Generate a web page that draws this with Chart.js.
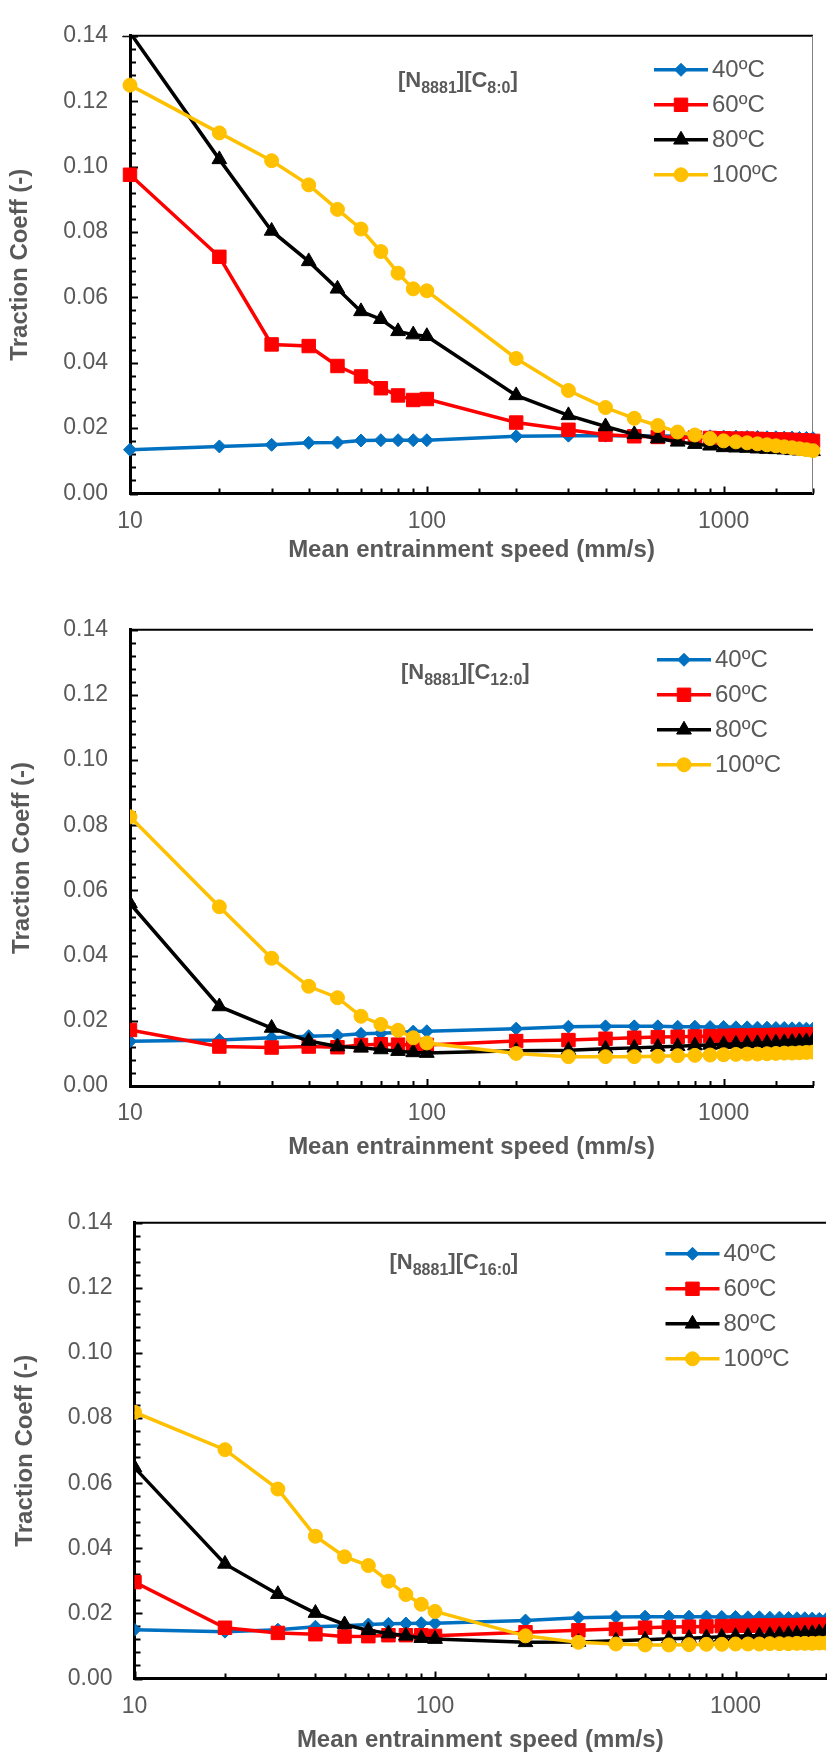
<!DOCTYPE html>
<html>
<head>
<meta charset="utf-8">
<title>Traction coefficient vs mean entrainment speed</title>
<script src="https://cdn.jsdelivr.net/npm/chart.js@4.4.1/dist/chart.umd.min.js"></script>
<style>
    html, body { margin: 0; padding: 0; background: #fff; }
    #page { position: relative; width: 827px; height: 1755px; overflow: hidden; }
    #page canvas { position: absolute; left: 0; }
</style>
</head>
<body>
<div id="page">
    <canvas id="chartC8" width="827" height="570" style="top:0"></canvas>
    <canvas id="chartC12" width="827" height="568" style="top:594px"></canvas>
    <canvas id="chartC16" width="840" height="568" style="top:1187px"></canvas>
</div>
<script>
// Mean entrainment speed (mm/s)
const speeds = [10, 20, 30, 40, 50, 60, 70, 80, 90, 100,
    200, 300, 400, 500, 600, 700, 800, 900, 1000,
    1100, 1200, 1300, 1400, 1500, 1600, 1700, 1800, 1900, 2000];

const seriesLabels = ['40ºC', '60ºC', '80ºC', '100ºC'];
const xTickLabels = [10, 100, 1000];
const yMin = 0;
const yMax = 0.14;
const yStep = 0.02;

// [N8881][C8:0]
const c8_40 = [0.0134, 0.0144, 0.0149, 0.0155, 0.0156, 0.0162, 0.0163, 0.0163, 0.0163, 0.0163,
    0.0175, 0.0177, 0.0177, 0.0177, 0.0176, 0.0176, 0.0175, 0.0175, 0.0174,
    0.0174, 0.0173, 0.0173, 0.0172, 0.0172, 0.0171, 0.0171, 0.0170, 0.0170, 0.0169];
const c8_60 = [0.0975, 0.0724, 0.0456, 0.0451, 0.0390, 0.0358, 0.0322, 0.0300, 0.0286, 0.0289,
    0.0217, 0.0195, 0.0180, 0.0175, 0.0173, 0.0172, 0.0171, 0.0170, 0.0169,
    0.0168, 0.0168, 0.0167, 0.0166, 0.0165, 0.0165, 0.0164, 0.0163, 0.0162, 0.0161];
const c8_80 = [0.1410, 0.1022, 0.0803, 0.0710, 0.0626, 0.0557, 0.0533, 0.0496, 0.0486, 0.0481,
    0.0300, 0.0239, 0.0205, 0.0181, 0.0168, 0.0158, 0.0151, 0.0146, 0.0141,
    0.0140, 0.0139, 0.0137, 0.0136, 0.0135, 0.0134, 0.0132, 0.0131, 0.0130, 0.0129];
const c8_100 = [0.1249, 0.1103, 0.1018, 0.0944, 0.0869, 0.0809, 0.0740, 0.0674, 0.0626, 0.0620,
    0.0413, 0.0315, 0.0263, 0.0230, 0.0208, 0.0188, 0.0179, 0.0168, 0.0161,
    0.0158, 0.0155, 0.0152, 0.0149, 0.0146, 0.0143, 0.0140, 0.0137, 0.0134, 0.0131];

// [N8881][C12:0]
const c12_40 = [0.0137, 0.0141, 0.0148, 0.0153, 0.0155, 0.0160, 0.0162, 0.0164, 0.0167, 0.0168,
    0.0176, 0.0182, 0.0183, 0.0183, 0.0183, 0.0182, 0.0182, 0.0181, 0.0181,
    0.0180, 0.0180, 0.0179, 0.0179, 0.0178, 0.0178, 0.0177, 0.0177, 0.0176, 0.0176];
const c12_60 = [0.0172, 0.0121, 0.0118, 0.0121, 0.0119, 0.0126, 0.0128, 0.0127, 0.0126, 0.0126,
    0.0138, 0.0141, 0.0145, 0.0148, 0.0150, 0.0151, 0.0152, 0.0153, 0.0154,
    0.0155, 0.0155, 0.0156, 0.0156, 0.0157, 0.0157, 0.0157, 0.0158, 0.0158, 0.0158];
const c12_80 = [0.0560, 0.0244, 0.0178, 0.0138, 0.0121, 0.0117, 0.0112, 0.0107, 0.0103, 0.0101,
    0.0108, 0.0110, 0.0114, 0.0117, 0.0120, 0.0122, 0.0124, 0.0126, 0.0128,
    0.0129, 0.0130, 0.0131, 0.0132, 0.0133, 0.0134, 0.0135, 0.0136, 0.0137, 0.0138];
const c12_100 = [0.0826, 0.0550, 0.0392, 0.0306, 0.0271, 0.0214, 0.0189, 0.0171, 0.0148, 0.0132,
    0.0100, 0.0090, 0.0090, 0.0090, 0.0091, 0.0093, 0.0094, 0.0095, 0.0096,
    0.0097, 0.0098, 0.0098, 0.0099, 0.0100, 0.0101, 0.0101, 0.0102, 0.0103, 0.0104];

// [N8881][C16:0]
const c16_40 = [0.0150, 0.0144, 0.0150, 0.0159, 0.0162, 0.0166, 0.0168, 0.0169, 0.0170, 0.0170,
    0.0178, 0.0187, 0.0189, 0.0190, 0.0190, 0.0190, 0.0190, 0.0189, 0.0189,
    0.0188, 0.0188, 0.0187, 0.0187, 0.0186, 0.0185, 0.0185, 0.0184, 0.0183, 0.0182];
const c16_60 = [0.0296, 0.0156, 0.0140, 0.0136, 0.0129, 0.0130, 0.0133, 0.0133, 0.0133, 0.0131,
    0.0142, 0.0148, 0.0152, 0.0156, 0.0158, 0.0159, 0.0160, 0.0161, 0.0162,
    0.0162, 0.0163, 0.0163, 0.0164, 0.0164, 0.0164, 0.0165, 0.0165, 0.0165, 0.0165];
const c16_80 = [0.0648, 0.0352, 0.0259, 0.0201, 0.0166, 0.0148, 0.0138, 0.0131, 0.0124, 0.0121,
    0.0111, 0.0112, 0.0116, 0.0119, 0.0122, 0.0124, 0.0126, 0.0128, 0.0130,
    0.0131, 0.0132, 0.0134, 0.0135, 0.0136, 0.0137, 0.0138, 0.0139, 0.0141, 0.0142];
const c16_100 = [0.0818, 0.0703, 0.0582, 0.0437, 0.0374, 0.0347, 0.0299, 0.0258, 0.0228, 0.0206,
    0.0131, 0.0111, 0.0106, 0.0103, 0.0103, 0.0104, 0.0105, 0.0105, 0.0106,
    0.0106, 0.0106, 0.0107, 0.0107, 0.0107, 0.0108, 0.0108, 0.0108, 0.0109, 0.0109];

const seriesColors = ['#0070C0', '#FF0000', '#000000', '#FFC000'];
const markerStyles = ['rectRot', 'rect', 'triangle', 'circle'];
const markerRadii = [6.5, 9.5, 8.5, 7];

const textGray = '#595959';
const fontFamily = "'Liberation Sans', Arial, sans-serif";
Chart.defaults.font.family = fontFamily;
Chart.defaults.color = textGray;

const panels = [
    {
        id: 'chartC8', series: [c8_40, c8_60, c8_80, c8_100], title: ['[N', '8881', '][C', '8:0', ']'],
        axisLeft: 130, xAxisHeight: 76.5, padRight: 0, xTitlePad: 5, yTitlePad: 6,
        legend: { x: 524, y: 34, dy: 35 }, note: { x: 268, y: 51 }, rightBorder: true,
        clip: { left: 12, top: 0, right: 12, bottom: 12 }
    },
    {
        id: 'chartC12', series: [c12_40, c12_60, c12_80, c12_100], title: ['[N', '8881', '][C', '12:0', ']'],
        axisLeft: 130, xAxisHeight: 76, padRight: 0, xTitlePad: 0, yTitlePad: 8,
        legend: { x: 527, y: 30, dy: 35 }, note: { x: 271, y: 49 }, rightBorder: false
    },
    {
        id: 'chartC16', series: [c16_40, c16_60, c16_80, c16_100], title: ['[N', '8881', '][C', '16:0', ']'],
        axisLeft: 134.5, xAxisHeight: 76.5, padRight: 5, xTitlePad: 0, yTitlePad: 11,
        legend: { x: 531, y: 31, dy: 35 }, note: { x: 255, y: 46 }, rightBorder: false
    }
];

// Frame, inside tick marks, in-plot legend and the sample label
const panelDecor = {
    id: 'panelDecor',
    beforeDatasetsDraw(chart, args, opts) {
        const { ctx, chartArea: a, scales: { x, y } } = chart;
        ctx.save();
        ctx.strokeStyle = '#000';
        ctx.lineWidth = 2;
        ctx.beginPath();
        ctx.moveTo(a.left, a.top);
        ctx.lineTo(a.right, a.top);
        ctx.stroke();

        // y: major every 0.02, minor every 0.004, pointing into the plot
        const minor = yStep / 5;
        for (let k = 0; k <= Math.round((yMax - yMin) / minor); k++) {
            const py = Math.round(y.getPixelForValue(yMin + k * minor)) + 0.5;
            const len = k % 5 === 0 ? 8 : 6;
            ctx.beginPath();
            ctx.moveTo(a.left, py);
            ctx.lineTo(a.left + len, py);
            ctx.stroke();
        }
        // x: every log tick, decades a bit longer
        x.ticks.forEach(t => {
            const px = Math.round(x.getPixelForValue(t.value)) + 0.5;
            const decade = Math.abs(Math.log10(t.value) % 1) < 1e-6;
            ctx.beginPath();
            ctx.moveTo(px, a.bottom);
            ctx.lineTo(px, a.bottom - (decade ? 7 : 5));
            ctx.stroke();
        });

        if (opts.rightBorder) {
            ctx.strokeStyle = '#808080';
            ctx.lineWidth = 1;
            ctx.beginPath();
            ctx.moveTo(a.right - 0.5, a.top);
            ctx.lineTo(a.right - 0.5, a.bottom);
            ctx.stroke();
        }
        ctx.restore();
    },
    afterDatasetsDraw(chart, args, opts) {
        const { ctx, chartArea: a } = chart;
        ctx.save();

        // legend: line with marker, then label
        chart.data.datasets.forEach((ds, i) => {
            const x0 = a.left + opts.legend.x;
            const yy = a.top + opts.legend.y + i * opts.legend.dy;
            ctx.strokeStyle = ds.borderColor;
            ctx.lineWidth = 3.5;
            ctx.beginPath();
            ctx.moveTo(x0, yy);
            ctx.lineTo(x0 + 54, yy);
            ctx.stroke();
            ctx.fillStyle = ds.pointBackgroundColor;
            ctx.strokeStyle = ds.pointBorderColor;
            ctx.lineWidth = 1;
            Chart.helpers.drawPoint(ctx, {
                pointStyle: ds.pointStyle, radius: ds.pointRadius, rotation: 0, borderWidth: 1
            }, x0 + 27, yy);
            ctx.fillStyle = textGray;
            ctx.font = '24px ' + fontFamily;
            ctx.textBaseline = 'middle';
            ctx.textAlign = 'left';
            ctx.fillText(ds.label, x0 + 58, yy + 1);
        });

        // sample label with subscripts (odd parts are subscripts)
        let xx = a.left + opts.note.x;
        const base = a.top + opts.note.y;
        ctx.fillStyle = textGray;
        ctx.textBaseline = 'alphabetic';
        opts.title.forEach((part, i) => {
            const sub = i % 2 === 1;
            ctx.font = 'bold ' + (sub ? 16 : 22) + 'px ' + fontFamily;
            ctx.fillText(part, xx, sub ? base + 6 : base);
            xx += ctx.measureText(part).width;
        });
        ctx.restore();
    }
};

function buildChart(p) {
    const datasets = p.series.map((values, i) => ({
        label: seriesLabels[i],
        data: speeds.map((s, j) => ({ x: s, y: values[j] })),
        borderColor: seriesColors[i],
        backgroundColor: seriesColors[i],
        borderWidth: 3.5,
        pointStyle: markerStyles[i],
        pointRadius: markerRadii[i],
        pointBackgroundColor: seriesColors[i],
        pointBorderColor: seriesColors[i],
        pointBorderWidth: 1,
        tension: 0,
        order: 4 - i,
        clip: p.clip
    }));

    return new Chart(document.getElementById(p.id), {
        type: 'line',
        data: { datasets },
        plugins: [panelDecor],
        options: {
            responsive: false,
            animation: false,
            events: [],
            layout: { padding: { top: 27, left: 0, right: p.padRight, bottom: 0 } },
            plugins: {
                legend: { display: false },
                tooltip: { enabled: false },
                panelDecor: { legend: p.legend, note: p.note, title: p.title, rightBorder: p.rightBorder }
            },
            scales: {
                x: {
                    type: 'logarithmic',
                    min: 10,
                    max: 2000,
                    grid: { drawOnChartArea: false, drawTicks: false },
                    border: { color: '#000', width: 3 },
                    ticks: {
                        autoSkip: false,
                        maxRotation: 0,
                        padding: 14,
                        color: textGray,
                        font: { size: 23 },
                        callback: v => xTickLabels.includes(v) ? String(v) : ''
                    },
                    title: {
                        display: true,
                        text: 'Mean entrainment speed (mm/s)',
                        color: textGray,
                        font: { size: 24, weight: 'bold' },
                        padding: { top: 0, bottom: p.xTitlePad }
                    },
                    afterFit: s => { s.height = p.xAxisHeight; }
                },
                y: {
                    min: yMin,
                    max: yMax,
                    grid: { drawOnChartArea: false, drawTicks: false },
                    border: { color: '#000', width: 3 },
                    ticks: {
                        stepSize: yStep,
                        padding: 22,
                        color: textGray,
                        font: { size: 23 },
                        callback: v => v.toFixed(2)
                    },
                    title: {
                        display: true,
                        text: 'Traction Coeff (-)',
                        color: textGray,
                        font: { size: 24, weight: 'bold' },
                        padding: { top: p.yTitlePad, bottom: 0 }
                    },
                    afterFit: s => { s.width = p.axisLeft; }
                }
            }
        }
    });
}

panels.forEach(buildChart);
</script>
</body>
</html>
